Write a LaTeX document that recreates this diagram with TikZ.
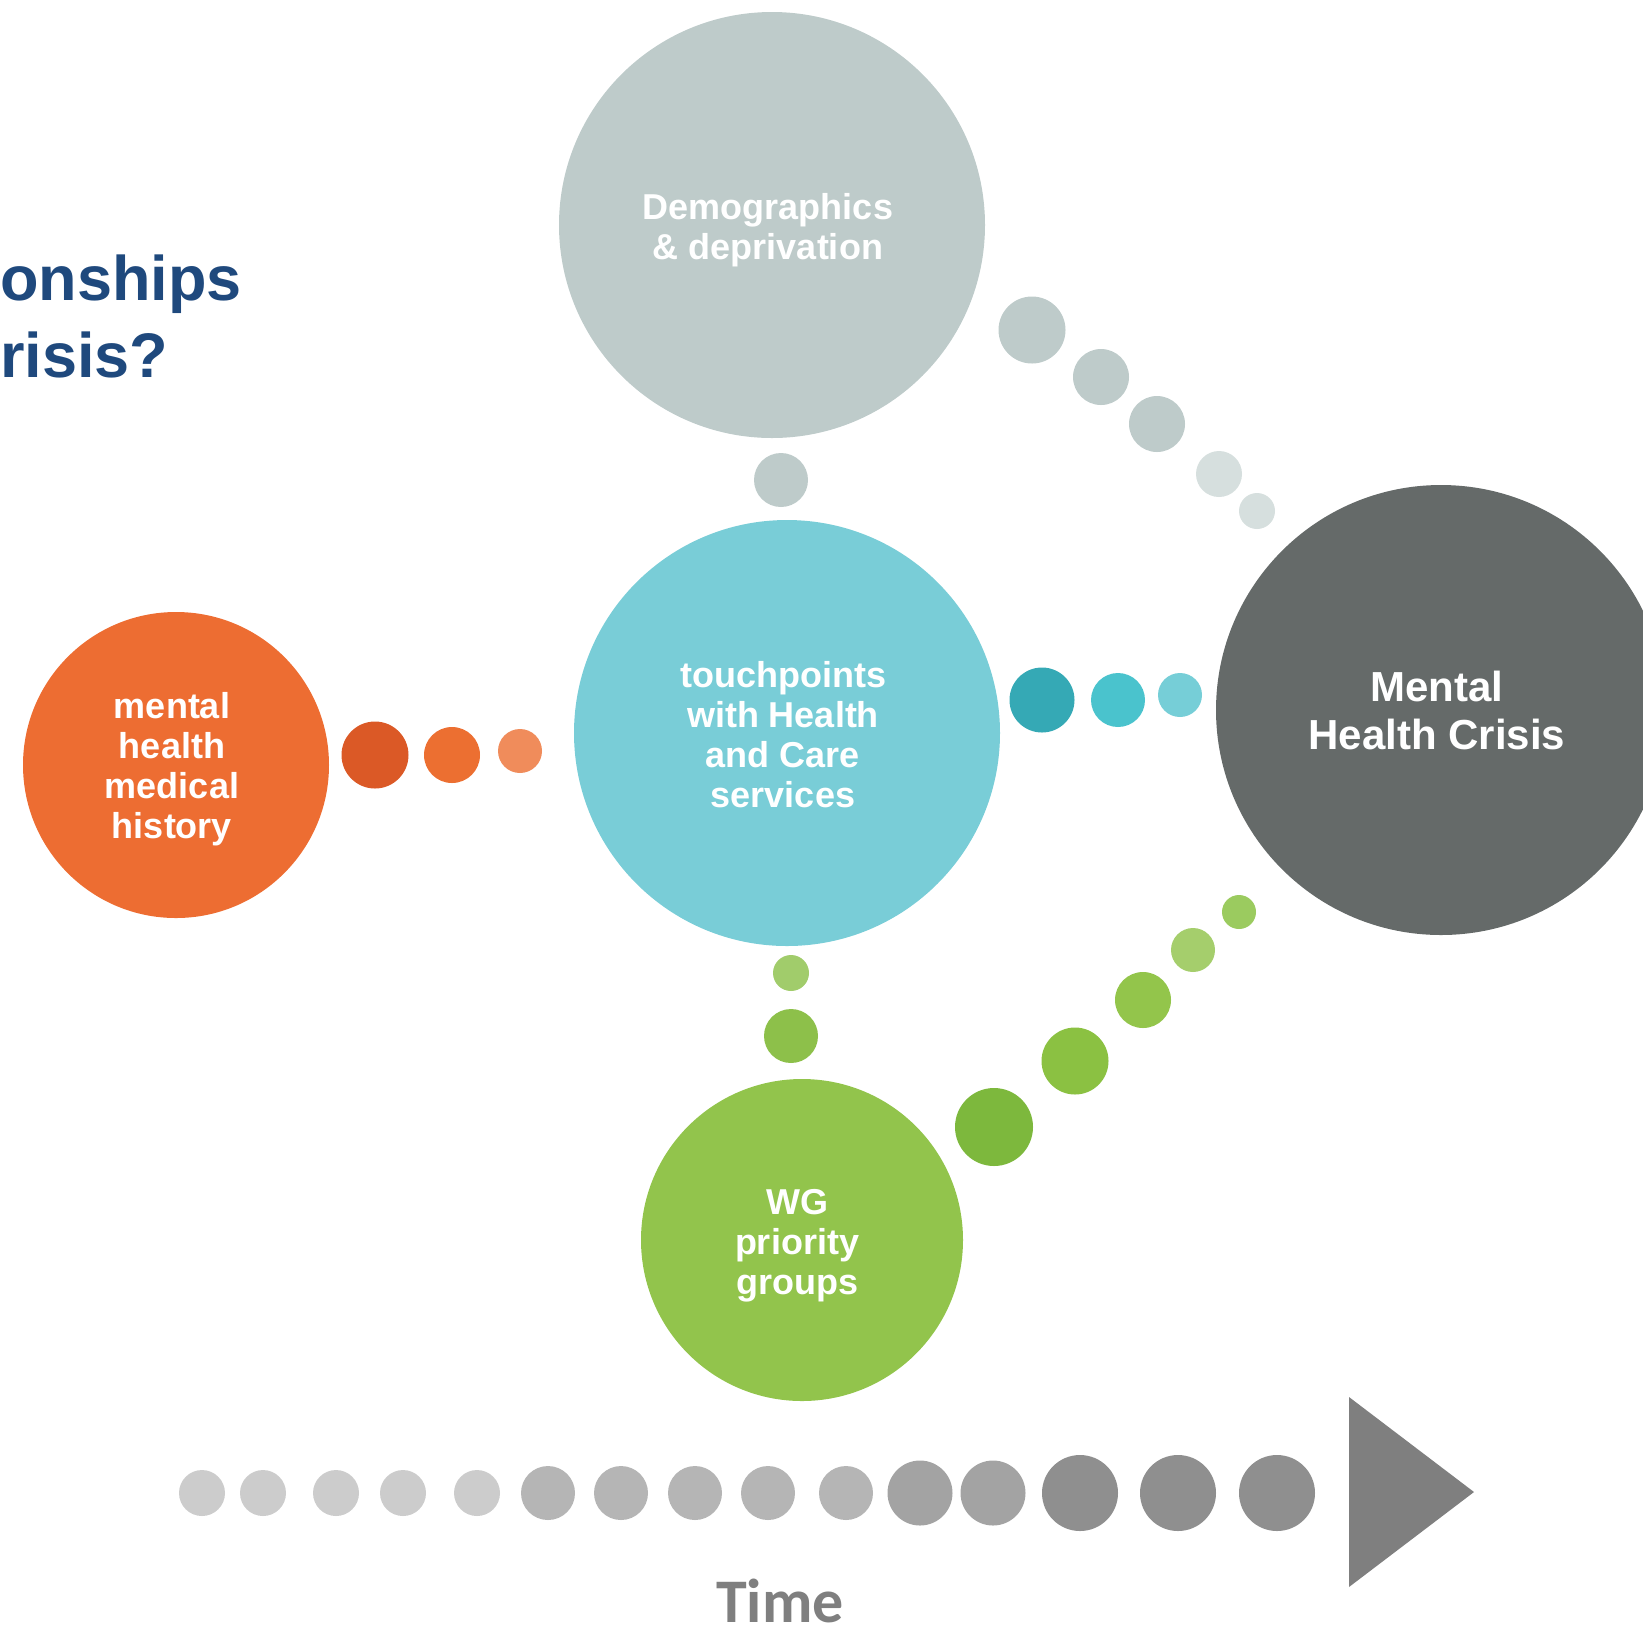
\documentclass[tikz,border=0pt]{standalone}
\usepackage{fontspec}
\setmainfont{Liberation Sans}
\newfontfamily\timefont{Carlito}
\definecolor{demo}{HTML}{BECBCA}
\definecolor{demolight}{HTML}{D6DFDE}
\definecolor{tealbig}{HTML}{79CDD7}
\definecolor{tealA}{HTML}{35A9B5}
\definecolor{tealB}{HTML}{4AC3CD}
\definecolor{tealC}{HTML}{76CED7}
\definecolor{orbig}{HTML}{ED6D32}
\definecolor{orA}{HTML}{DB5926}
\definecolor{orB}{HTML}{EC6F31}
\definecolor{orC}{HTML}{F08C5B}
\definecolor{crisis}{HTML}{656A69}
\definecolor{grbig}{HTML}{92C44C}
\definecolor{grA}{HTML}{7DB83D}
\definecolor{grB}{HTML}{8BC142}
\definecolor{grC}{HTML}{93C54B}
\definecolor{grD}{HTML}{A5CE6C}
\definecolor{grE}{HTML}{9BCB5F}
\definecolor{grF}{HTML}{A1CC6B}
\definecolor{grG}{HTML}{8DC04A}
\definecolor{titleblue}{HTML}{1F497D}
\definecolor{timegrey}{HTML}{7F7F7F}
\definecolor{tdA}{HTML}{CCCCCC}
\definecolor{tdB}{HTML}{B5B5B5}
\definecolor{tdC}{HTML}{A3A3A3}
\definecolor{tdD}{HTML}{8F8F8F}
\begin{document}
\begin{tikzpicture}[x=0.5pt,y=-0.5pt,
  dot/.style args={#1/#2}{circle,inner sep=0pt,draw=none,fill=#1,minimum size=#2*0.5pt},
  bigtext/.style={text=white,font=\bfseries\fontsize{18}{20}\selectfont,align=center,inner sep=0pt},
  titletext/.style={text=titleblue,font=\bfseries\fontsize{31.5}{36}\selectfont,inner sep=0pt,anchor=base west}]
\useasboundingbox (0,0) rectangle (1643,1635);
\clip (0,0) rectangle (1643,1635);

% title fragments
\node[titletext] (t1) at (0,300) {onships};
\node[titletext] (t2) at (0,377) {risis?};

% big circles
\node[dot=demo/426] (demo) at (772,225) {};
\node[dot=tealbig/426] (touch) at (787,733) {};
\node[dot=orbig/306] (hist) at (176,765) {};
\node[dot=crisis/450] (crisis) at (1441,710) {};
\node[dot=grbig/322] (wg) at (802,1240) {};

\node[bigtext] (demotxt) at ([shift={(-4,5)}]demo.center) {Demographics\\\& deprivation};
\node[bigtext] (touchtxt) at ([shift={(-4,2)}]touch.center) {touchpoints\\with Health\\and Care\\services};
\node[bigtext] (histtxt) at ([shift={(-4,4)}]hist.center) {mental\\health\\medical\\history};
\node[bigtext,font=\bfseries\fontsize{21}{24}\selectfont] (crisistxt) at ([shift={(-4,0)}]crisis.center) {Mental\\Health Crisis};
\node[bigtext] (wgtxt) at ([shift={(-5,6)}]wg.center) {WG\\priority\\groups};

% grey dots
\node[dot=demo/54] (d0) at (781,480) {};
\node[dot=demo/67] (d1) at (1032,330) {};
\node[dot=demo/56] (d2) at (1101,377) {};
\node[dot=demo/56] (d3) at (1157,424) {};
\node[dot=demolight/46] (d4) at (1219,474) {};
\node[dot=demolight/36] (d5) at (1257,511) {};

% teal dots
\node[dot=tealA/65] (c1) at (1042,700) {};
\node[dot=tealB/54] (c2) at (1118,700) {};
\node[dot=tealC/44] (c3) at (1180,695) {};

% orange dots
\node[dot=orA/67] (o1) at (375,755) {};
\node[dot=orB/56] (o2) at (452,755) {};
\node[dot=orC/44] (o3) at (520,751) {};

% green dots
\node[dot=grF/36] (g1) at (791,973) {};
\node[dot=grG/54] (g2) at (791,1036) {};
\node[dot=grA/78] (h1) at (994,1127) {};
\node[dot=grB/67] (h2) at (1075,1061) {};
\node[dot=grC/56] (h3) at (1143,1000) {};
\node[dot=grD/44] (h4) at (1193,950) {};
\node[dot=grE/34] (h5) at (1239,912) {};

% time dots
\foreach \x/\c/\r [count=\i] in {202/tdA/46,263/tdA/46,336/tdA/46,403/tdA/46,477/tdA/46,
  548/tdB/54,621/tdB/54,695/tdB/54,768/tdB/54,846/tdB/54,
  920/tdC/65,993/tdC/65,1080/tdD/76,1178/tdD/76,1277/tdD/76}
  \node[dot=\c/\r] (td\i) at (\x,1493) {};
\fill[timegrey] (1349,1397) -- (1474,1492) -- (1349,1587) -- cycle;
\node[text=timegrey,font=\timefont\bfseries\fontsize{31}{36}\selectfont,inner sep=0pt,anchor=base] (time) at (780,1622) {Time};
\end{tikzpicture}
\end{document}
